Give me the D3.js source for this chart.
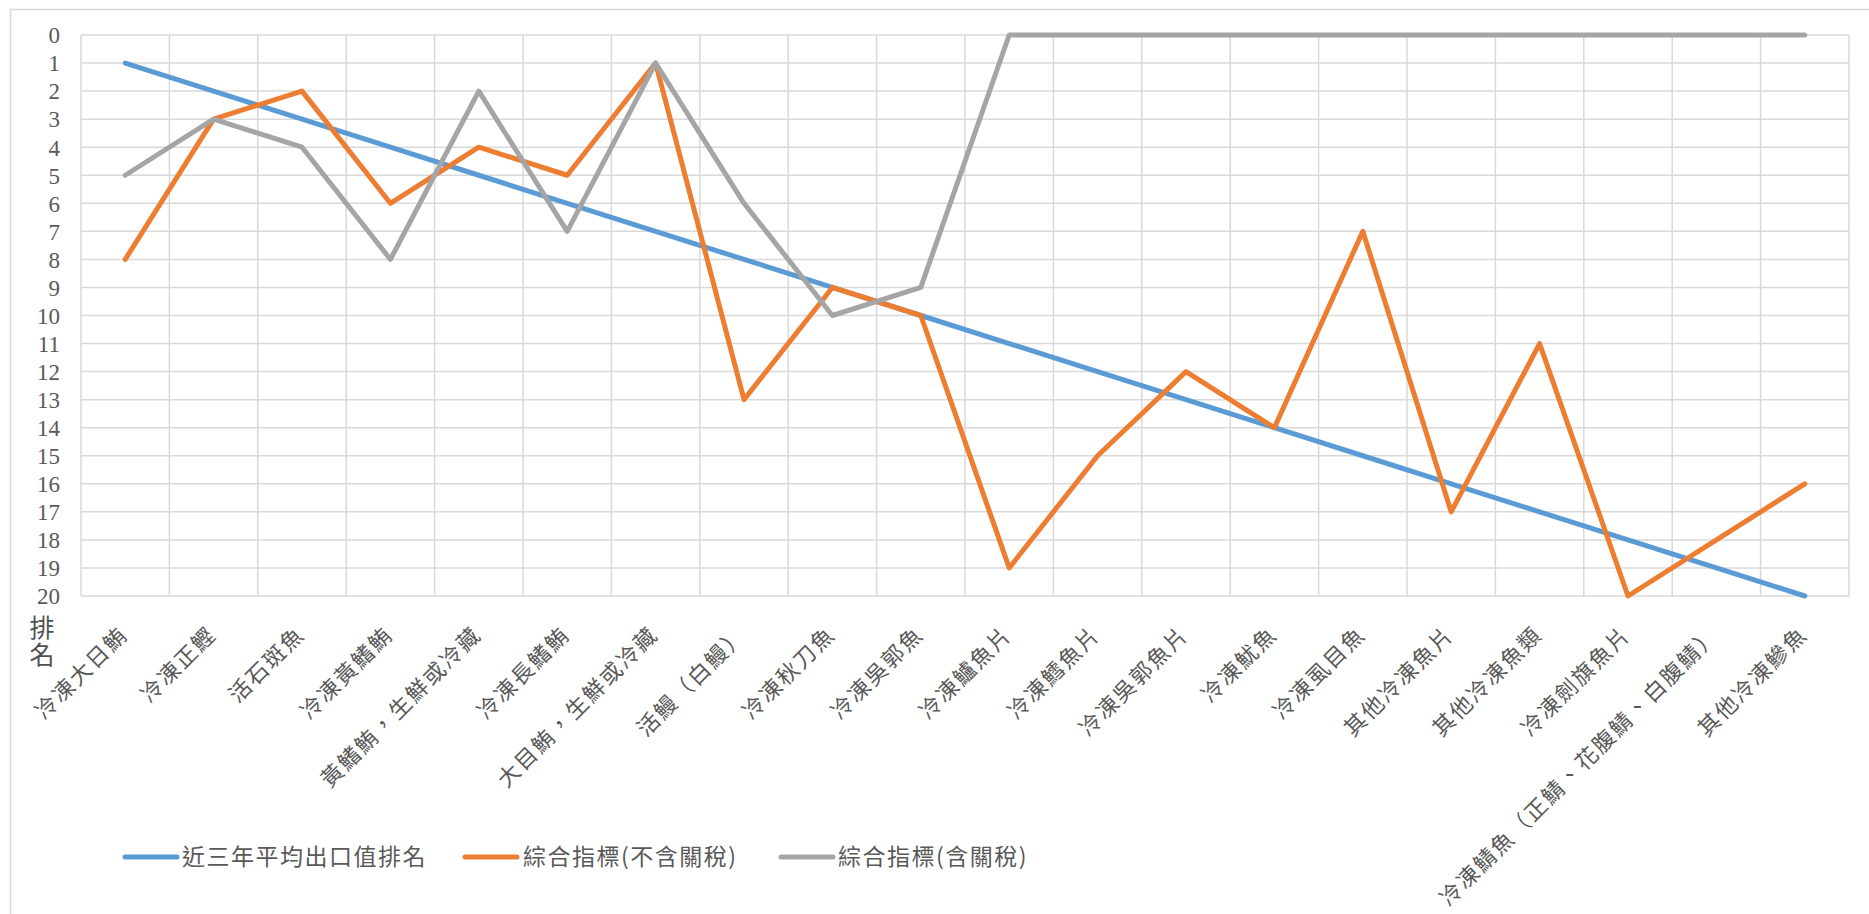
<!DOCTYPE html>
<html>
<head>
<meta charset="utf-8">
<script src="https://cdn.jsdelivr.net/npm/d3@7"></script>
<style>
  html, body { margin: 0; padding: 0; background: #fff; }
  svg { display: block; }
</style>
</head>
<body>
<svg id="chart" width="1869" height="914"></svg>
<script>
// Fish export product categories
const categories = [
  "冷凍大日鮪", "冷凍正鰹", "活石斑魚", "冷凍黃鰭鮪", "黃鰭鮪，生鮮或冷藏",
  "冷凍長鰭鮪", "大目鮪，生鮮或冷藏", "活鰻（白鰻）", "冷凍秋刀魚", "冷凍吳郭魚",
  "冷凍鱸魚片", "冷凍鱈魚片", "冷凍吳郭魚片", "冷凍魷魚", "冷凍虱目魚",
  "其他冷凍魚片", "其他冷凍魚類", "冷凍劍旗魚片", "冷凍鯖魚（正鯖、花腹鯖、白腹鯖）", "其他冷凍鰺魚"
];

// Ranks per series
const avgExportRank = [1, 2, 3, 4, 5, 6, 7, 8, 9, 10, 11, 12, 13, 14, 15, 16, 17, 18, 19, 20];
const indexNoTariff = [8, 3, 2, 6, 4, 5, 1, 13, 9, 10, 19, 15, 12, 14, 7, 17, 11, 20, 18, 16];
const indexWithTariff = [5, 3, 4, 8, 2, 7, 1, 6, 10, 9, 0, 0, 0, 0, 0, 0, 0, 0, 0, 0];

const seriesNames = ["近三年平均出口值排名", "綜合指標(不含關稅)", "綜合指標(含關稅)"];
const seriesColors = ["#5B9BD5", "#ED7D31", "#A5A5A5"];
const yTicks = d3.range(0, 21);
const yTitle = ["排", "名"];

const svg = d3.select("#chart");
const W = 1869, H = 914;
const plot = { left: 81, right: 1849, top: 35, bottom: 596 };
const cjk = "'Noto Sans CJK TC', 'Noto Sans CJK SC', sans-serif";
const serif = "'Liberation Serif', 'DejaVu Serif', serif";
const textColor = "#595959";
const gridColor = "#D9D9D9";

// Chart area border
svg.append("path")
  .attr("d", `M${W + 5},9.5 H10.5 V${H + 5}`)
  .attr("fill", "none")
  .attr("stroke", gridColor)
  .attr("stroke-width", 1.5);

const x = d3.scaleBand()
  .domain(categories)
  .range([plot.left, plot.right])
  .paddingInner(0).paddingOuter(0);
const y = d3.scaleLinear().domain([0, 20]).range([plot.top, plot.bottom]);
const cx = c => x(c) + x.bandwidth() / 2;

// Horizontal gridlines
svg.append("g")
  .selectAll("line")
  .data(yTicks)
  .join("line")
  .attr("x1", plot.left).attr("x2", plot.right)
  .attr("y1", d => y(d)).attr("y2", d => y(d))
  .attr("stroke", gridColor).attr("stroke-width", 1.5);

// Vertical gridlines at category boundaries
const bounds = categories.map(c => x(c)).concat([plot.right]);
svg.append("g")
  .selectAll("line")
  .data(bounds)
  .join("line")
  .attr("x1", d => d).attr("x2", d => d)
  .attr("y1", plot.top).attr("y2", plot.bottom)
  .attr("stroke", gridColor).attr("stroke-width", 1.5);

// Y axis labels
const yAxis = d3.axisLeft(y).tickValues(yTicks).tickSize(0).tickPadding(0);
const yg = svg.append("g")
  .attr("transform", `translate(${plot.left - 21},0)`)
  .call(yAxis)
  .attr("font-family", null)
  .attr("font-size", null);
yg.select(".domain").remove();
yg.selectAll("text")
  .attr("fill", textColor)
  .style("font-family", serif)
  .style("font-size", "23px")
  .attr("dy", "0.34em");

// Y axis title, stacked vertically
svg.append("g")
  .selectAll("text")
  .data(yTitle)
  .join("text")
  .attr("x", 42)
  .attr("y", (d, i) => 637 + i * 27)
  .attr("text-anchor", "middle")
  .style("font-family", cjk)
  .style("font-size", "25px")
  .attr("fill", "#505050")
  .text(d => d);

// X axis category labels, rotated
const xAxis = d3.axisBottom(x).tickSize(0).tickPadding(0);
const xg = svg.append("g")
  .attr("transform", `translate(0,${plot.bottom})`)
  .call(xAxis)
  .attr("font-family", null)
  .attr("font-size", null);
xg.select(".domain").remove();
xg.selectAll(".tick text")
  .attr("fill", textColor)
  .style("font-family", cjk)
  .style("font-size", "22px")
  .style("letter-spacing", "2px")
  .attr("text-anchor", "end")
  .attr("dy", null)
  .attr("y", 0)
  .attr("transform", "translate(4,40) rotate(-45)");

// Series lines
const seriesData = [avgExportRank, indexNoTariff, indexWithTariff];
const line = d3.line()
  .x((d, i) => cx(categories[i]))
  .y(d => y(d));

svg.append("g")
  .selectAll("path")
  .data(seriesData)
  .join("path")
  .attr("d", d => line(d))
  .attr("fill", "none")
  .attr("stroke", (d, i) => seriesColors[i])
  .attr("stroke-width", 5)
  .attr("stroke-linejoin", "round")
  .attr("stroke-linecap", "round");

// Legend
const legendItems = [
  { x: 125, w: 52, tx: 182 },
  { x: 465, w: 52, tx: 523 },
  { x: 781, w: 52, tx: 838 }
];
const lg = svg.append("g");
legendItems.forEach((it, i) => {
  lg.append("line")
    .attr("x1", it.x).attr("x2", it.x + it.w)
    .attr("y1", 857).attr("y2", 857)
    .attr("stroke", seriesColors[i])
    .attr("stroke-width", 5)
    .attr("stroke-linecap", "round");
  lg.append("text")
    .attr("x", it.tx)
    .attr("y", 857)
    .attr("dy", "0.35em")
    .style("font-family", cjk)
    .style("font-size", "23px")
    .style("letter-spacing", "1.5px")
    .attr("fill", textColor)
    .text(seriesNames[i]);
});
</script>
</body>
</html>
